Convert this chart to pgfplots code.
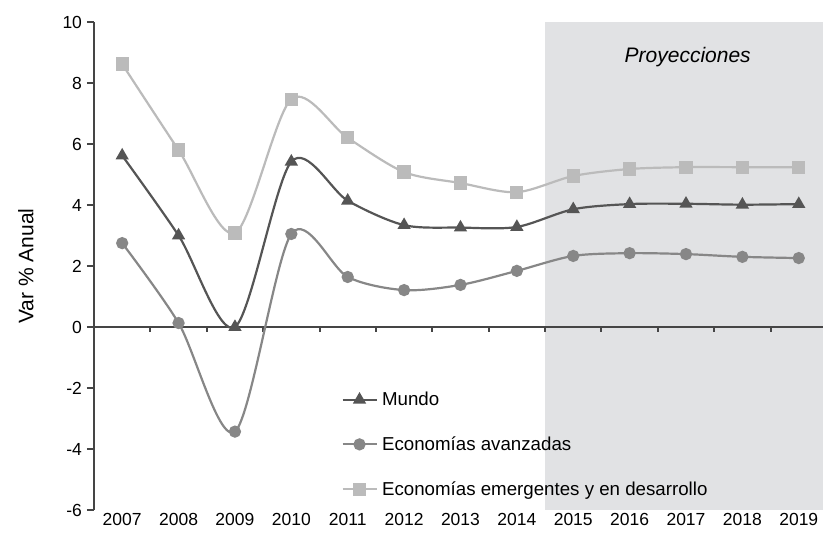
\documentclass[border=0pt]{standalone}
\usepackage{pgfplots}
\pgfplotsset{compat=1.18}
\usepackage{fontspec}
\setmainfont{Liberation Sans}
\definecolor{mundo}{HTML}{555555}
\definecolor{avz}{HTML}{878787}
\definecolor{emg}{HTML}{BBBBBB}
\definecolor{shade}{HTML}{E1E2E4}
\definecolor{axc}{HTML}{454545}
\begin{document}
\begin{tikzpicture}
\begin{axis}[
  scale only axis, width=729pt, height=488pt,
  xmin=-0.5, xmax=12.43, ymin=-6, ymax=10,
  axis x line*=bottom, axis y line*=left,
  x axis line style={draw=none},
  y axis line style={axc, line width=2pt, -},
  xtick={0,...,12},
  xticklabels={2007,2008,2009,2010,2011,2012,2013,2014,2015,2016,2017,2018,2019},
  major x tick style={draw=none},
  ytick={-6,-4,...,10},
  ytick align=outside, major tick length=7pt,
  major y tick style={axc, line width=1.8pt},
  tick label style={font=\fontsize{17.5}{20}\selectfont},
  yticklabel style={xshift=-1.5pt},
  /pgf/number format/assume math mode=true,
  ylabel={Var \% Anual},
  every axis y label/.style={at={(axis description cs:-0.0935,0.5)}, rotate=90, anchor=center, font=\fontsize{21}{24}\selectfont},
  legend style={at={(rel axis cs:0.335,0.25)}, anchor=north west, draw=none, fill=none,
    row sep=25.5pt, font=\fontsize{18.7}{21}\selectfont, nodes={inner xsep=4.5pt}},
  legend cell align=left,
  legend image code/.code={\draw[mark repeat=2, mark phase=2, #1] plot coordinates {(0pt,0pt) (17pt,0pt) (34pt,0pt)};},
  clip=false,
]
\addplot[forget plot, draw=none, fill=shade] coordinates {(7.5,-6) (12.43,-6) (12.43,10) (7.5,10)} -- cycle;
\addplot[forget plot, axc, line width=2pt] coordinates {(-0.5,0) (12.43,0)};
\pgfplotsinvokeforeach{0.5,1.5,...,11.5}{\draw[axc, line width=2pt] (axis cs:#1,0) -- ([yshift=-5pt]axis cs:#1,0);}
\node[font=\itshape\fontsize{21}{24}\selectfont] at (axis cs:10.03,8.85) {Proyecciones};

\addplot[mundo, line width=2.2pt, smooth, mark=triangle*, mark size=5.5pt, mark options={solid}] coordinates {
(0,5.62) (1,3.0) (2,0.0) (3,5.42) (4,4.14) (5,3.34) (6,3.26) (7,3.28) (8,3.86) (9,4.03) (10,4.04) (11,4.01) (12,4.03)};
\addlegendentry{Mundo}
\addplot[avz, line width=2.2pt, smooth, mark=*, mark size=5pt] coordinates {
(0,2.75) (1,0.13) (2,-3.43) (3,3.05) (4,1.64) (5,1.21) (6,1.38) (7,1.84) (8,2.33) (9,2.42) (10,2.39) (11,2.3) (12,2.26)};
\addlegendentry{Economías avanzadas}
\addplot[emg, line width=2.2pt, smooth, mark=square*, mark size=5.5pt] coordinates {
(0,8.62) (1,5.8) (2,3.08) (3,7.47) (4,6.2) (5,5.08) (6,4.72) (7,4.42) (8,4.95) (9,5.18) (10,5.24) (11,5.24) (12,5.24)};
\addlegendentry{Economías emergentes y en desarrollo}
\end{axis}
\pgfresetboundingbox
\path (current axis.south west) ++(-94pt,-22pt) rectangle ([shift={(0pt,22pt)}]current axis.north east);
\end{tikzpicture}
\end{document}
